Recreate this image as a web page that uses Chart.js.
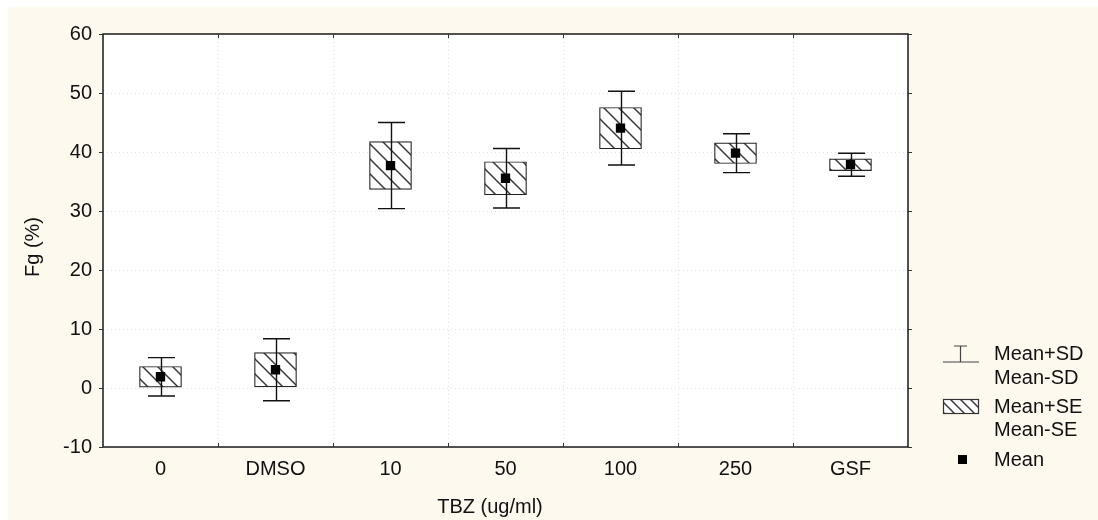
<!DOCTYPE html>
<html>
<head>
<meta charset="utf-8">
<script src="https://cdn.jsdelivr.net/npm/chart.js@4.4.1/dist/chart.umd.min.js"></script>
<style>
  html, body { margin: 0; padding: 0; background: #ffffff; }
  #wrap { position: absolute; left: 8px; top: 7px; width: 1090px; height: 513px; background: #fef9ee; }
  canvas { display: block; }
</style>
</head>
<body>
<div id="wrap"><canvas id="c" width="1090" height="513"></canvas></div>
<script>
// Fg (%) by TBZ treatment: mean, standard error and standard deviation per group
const categories = ['0', 'DMSO', '10', '50', '100', '250', 'GSF'];
const means      = [1.9, 3.1, 37.7, 35.55, 44.05, 39.8, 37.85];
const stdErr     = [1.75, 2.9, 4.05, 2.8, 3.5, 1.75, 1.0];
const stdDev     = [3.25, 5.25, 7.3, 5.05, 6.25, 3.3, 1.95];

const yMin = -10, yMax = 60, yStep = 10;
const xTitle = 'TBZ (ug/ml)';
const yTitle = 'Fg (%)';
const legendLabels = [['Mean+SD', 'Mean-SD'], ['Mean+SE', 'Mean-SE'], ['Mean']];

const FONT = '"Liberation Sans", Arial, Helvetica, sans-serif';
const INK = '#111111';

// Diagonal "\" hatch used for the SE boxes
function makeHatch(s) {
  const t = document.createElement('canvas');
  t.width = s; t.height = s;
  const g = t.getContext('2d');
  g.fillStyle = '#ffffff';
  g.fillRect(0, 0, s, s);
  g.strokeStyle = '#3a3a3a';
  g.lineWidth = 1.5;
  g.beginPath();
  g.moveTo(-1, -1); g.lineTo(s + 1, s + 1);
  g.moveTo(-1, s - 1); g.lineTo(1, s + 1);
  g.moveTo(s - 1, -1); g.lineTo(s + 1, 1);
  g.stroke();
  return document.getElementById('c').getContext('2d').createPattern(t, 'repeat');
}
const hatch = makeHatch(15);
const legendHatch = makeHatch(10);

const seBoxes = means.map((m, i) => [m - stdErr[i], m + stdErr[i]]);

const decorations = {
  id: 'decorations',
  beforeDraw(chart) {
    const { ctx, chartArea: a } = chart;
    ctx.save();
    ctx.fillStyle = '#ffffff';
    ctx.fillRect(a.left, a.top, a.right - a.left, a.bottom - a.top);
    ctx.restore();
  },
  afterDatasetDraw(chart, args) {
    if (args.index !== 0) return;
    const { ctx, scales: { x, y } } = chart;
    ctx.save();
    ctx.strokeStyle = INK;
    ctx.lineWidth = 1.4;
    const cap = 13.5;
    means.forEach((m, i) => {
      const px = Math.round(x.getPixelForValue(i)) + 0.5;
      const top = y.getPixelForValue(m + stdDev[i]);
      const bot = y.getPixelForValue(m - stdDev[i]);
      ctx.beginPath();
      ctx.moveTo(px, top); ctx.lineTo(px, bot);
      ctx.moveTo(px - cap, top); ctx.lineTo(px + cap, top);
      ctx.moveTo(px - cap, bot); ctx.lineTo(px + cap, bot);
      ctx.stroke();
    });
    ctx.restore();
  },
  afterDraw(chart) {
    const { ctx, chartArea: a, scales: { x, y } } = chart;
    ctx.save();
    // frame
    ctx.strokeStyle = '#1a1a1a';
    ctx.lineWidth = 1.5;
    ctx.strokeRect(a.left, a.top, a.right - a.left, a.bottom - a.top);
    // tick marks
    ctx.lineWidth = 1;
    ctx.strokeStyle = '#333333';
    ctx.beginPath();
    for (let v = yMin; v <= yMax; v += yStep) {
      const py = Math.round(y.getPixelForValue(v)) + 0.5;
      ctx.moveTo(a.left - 4, py); ctx.lineTo(a.left, py);
      ctx.moveTo(a.right, py); ctx.lineTo(a.right + 4, py);
    }
    const half = (x.getPixelForValue(1) - x.getPixelForValue(0)) / 2;
    for (let i = 0; i < categories.length - 1; i++) {
      const px = Math.round(x.getPixelForValue(i) + half) + 0.5;
      ctx.moveTo(px, a.bottom); ctx.lineTo(px, a.bottom - 4);
      ctx.moveTo(px, a.top); ctx.lineTo(px, a.top + 4);
    }
    ctx.stroke();

    // axis titles
    ctx.fillStyle = INK;
    ctx.font = '20px ' + FONT;
    ctx.textAlign = 'center';
    ctx.textBaseline = 'middle';
    ctx.fillText(xTitle, 482, 500);
    ctx.save();
    ctx.translate(25, 240);
    ctx.rotate(-Math.PI / 2);
    ctx.fillText(yTitle, 0, 0);
    ctx.restore();

    // legend
    ctx.textAlign = 'left';
    ctx.font = '20px ' + FONT;
    const lx = 935, lw = 36, tx = 986;
    // SD whisker symbol
    ctx.strokeStyle = '#444444';
    ctx.lineWidth = 1.2;
    ctx.beginPath();
    ctx.moveTo(lx, 355); ctx.lineTo(lx + lw, 355);
    ctx.moveTo(lx + 17.5, 355); ctx.lineTo(lx + 17.5, 339);
    ctx.moveTo(lx + 11, 339); ctx.lineTo(lx + 24, 339);
    ctx.stroke();
    ctx.fillText(legendLabels[0][0], tx, 347);
    ctx.fillText(legendLabels[0][1], tx, 371);
    // SE box symbol
    ctx.fillStyle = legendHatch;
    ctx.fillRect(lx, 392, lw, 15);
    ctx.strokeStyle = '#333333';
    ctx.lineWidth = 1.2;
    ctx.strokeRect(lx + 0.5, 392.5, lw - 1, 14);
    ctx.fillStyle = INK;
    ctx.fillText(legendLabels[1][0], tx, 400);
    ctx.fillText(legendLabels[1][1], tx, 423);
    // mean symbol
    ctx.fillStyle = '#000000';
    ctx.fillRect(950, 448, 9, 9);
    ctx.fillStyle = INK;
    ctx.fillText(legendLabels[2][0], tx, 453);
    ctx.restore();
  }
};

Chart.defaults.font.family = FONT;
Chart.defaults.color = INK;

new Chart(document.getElementById('c'), {
  data: {
    labels: categories,
    datasets: [
      {
        type: 'bar',
        label: 'Mean±SE',
        data: seBoxes,
        backgroundColor: hatch,
        borderColor: '#222222',
        borderWidth: 1.2,
        borderSkipped: false,
        barThickness: 42,
        order: 2
      },
      {
        type: 'line',
        label: 'Mean',
        data: means,
        showLine: false,
        pointStyle: 'rect',
        pointRadius: 6.6,
        pointBackgroundColor: '#000000',
        pointBorderWidth: 0,
        order: 1
      }
    ]
  },
  options: {
    responsive: false,
    animation: false,
    devicePixelRatio: 1,
    layout: { padding: { left: 0, top: 27, right: 190, bottom: 0 } },
    plugins: { legend: { display: false }, tooltip: { enabled: false } },
    scales: {
      x: {
        type: 'category',
        offset: true,
        grid: { offset: true, color: '#e2e2e2', lineWidth: 1, drawTicks: false },
        border: { display: false, dash: [1, 3] },
        ticks: { font: { size: 20 }, padding: 10, color: INK },
        afterFit(scale) { scale.height = 73; }
      },
      y: {
        type: 'linear',
        min: yMin,
        max: yMax,
        grid: { color: '#e2e2e2', lineWidth: 1, drawTicks: false },
        border: { display: false, dash: [1, 3] },
        ticks: { stepSize: yStep, font: { size: 20 }, padding: 11, color: INK },
        afterFit(scale) { scale.width = 95; }
      }
    }
  },
  plugins: [decorations]
});
</script>
</body>
</html>
